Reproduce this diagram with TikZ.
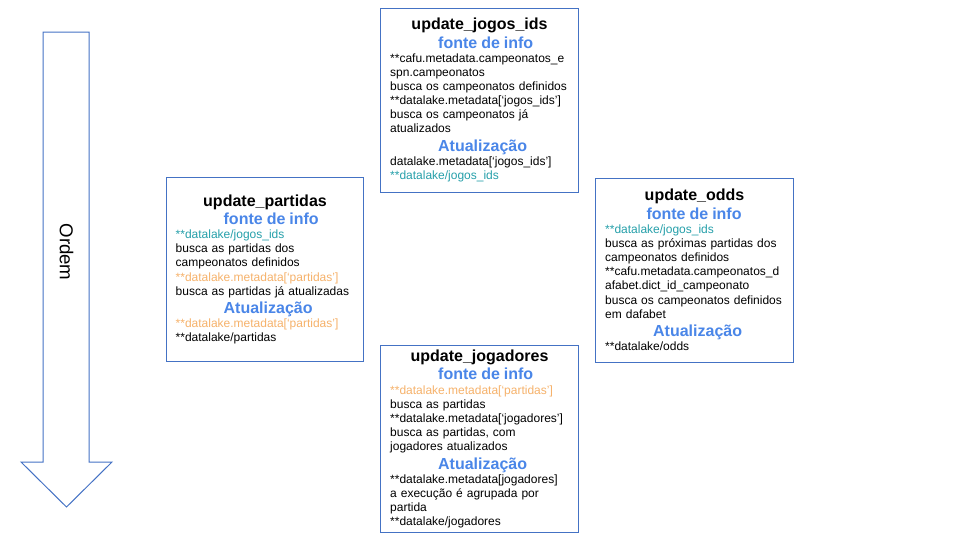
\documentclass[tikz,border=0pt]{standalone}
\usepackage{fontspec}
\setmainfont{Liberation Sans}
\usetikzlibrary{positioning}

\definecolor{borda}{RGB}{68,114,196}
\definecolor{azul}{RGB}{74,134,232}
\definecolor{ciano}{RGB}{38,160,170}
\definecolor{laranja}{RGB}{246,178,107}

% Box headings
\newcommand{\titulo}[1]{{\centering\fontsize{12}{13.8}\selectfont\bfseries #1\par}}
\newcommand{\secao}[2][36pt]{{\color{azul}\fontsize{12}{13.8}\selectfont\bfseries\hspace*{#1}#2\par}}

\begin{document}
\begin{tikzpicture}[
    x=0.75pt, y=-0.75pt,
    % Styles
    bloco/.style={ % update step
        rectangle,
        draw=borda,
        line width=0.75pt,
        fill=white,
        minimum height=138pt,
        text width=134pt,
        inner xsep=7pt,
        align=left,
        font=\fontsize{9}{10.6}\selectfont
    },
    seta/.style={ % big order arrow
        draw=borda,
        line width=0.75pt
    }
]
    \useasboundingbox (0,0) rectangle (960,540);

    % Order arrow
    \draw[seta] (43,32) -- (89,32) -- (89,462) -- (112,462)
        -- (66.5,507) -- (21,462) -- (43,462) -- cycle;
    \node[rotate=-90, font=\fontsize{14}{16}\selectfont] (ordem) at (66.5,252) {Ordem};

    % Steps
    \node[bloco] (jogos) at (479.5,100) {
        \titulo{update\_jogos\_ids}
        \secao{fonte de info}
        {**}cafu.metadata.campeonatos\_e\\
        spn.campeonatos\\
        busca os campeonatos definidos\\
        {**}datalake.metadata[‘jogos\_ids’]\\
        busca os campeonatos já\\
        atualizados\par
        \secao{Atualização}
        datalake.metadata[‘jogos\_ids’]\\
        \textcolor{ciano}{**datalake/jogos\_ids}\par
    };

    \node[bloco] (partidas) at (265,269.5) {
        \titulo{update\_partidas}
        \secao{fonte de info}
        \textcolor{ciano}{**datalake/jogos\_ids}\\
        busca as partidas dos\\
        campeonatos definidos\\
        \textcolor{laranja}{**datalake.metadata[‘partidas’]}\\
        busca as partidas já atualizadas\par
        \secao{Atualização}
        \textcolor{laranja}{**datalake.metadata[‘partidas’]}\\
        {**}datalake/partidas\par
    };

    \node[bloco] (odds) at (694.5,270) {
        \titulo{update\_odds}
        \secao[31pt]{fonte de info}
        \textcolor{ciano}{**datalake/jogos\_ids}\\
        busca as próximas partidas dos\\
        campeonatos definidos\\
        {**}cafu.metadata.campeonatos\_d\\
        afabet.dict\_id\_campeonato\\
        busca os campeonatos definidos\\
        em dafabet\par
        \secao{Atualização}
        {**}datalake/odds\par
    };

    \node[bloco, minimum height=140pt] (jogadores) at (479.5,439) {
        \titulo{update\_jogadores}
        \secao{fonte de info}
        \textcolor{laranja}{**datalake.metadata[‘partidas’]}\\
        busca as partidas\\
        {**}datalake.metadata[‘jogadores’]\\
        busca as partidas, com\\
        jogadores atualizados\par
        \secao{Atualização}
        {**}datalake.metadata[jogadores]\\
        a execução é agrupada por\\
        partida\\
        {**}datalake/jogadores\par
    };
\end{tikzpicture}
\end{document}
